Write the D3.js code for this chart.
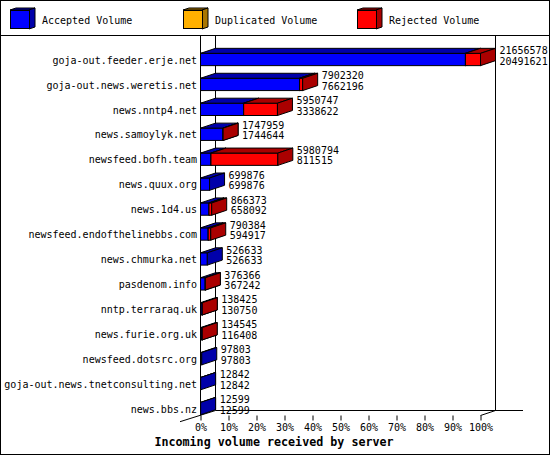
<!DOCTYPE html>
<html>
<head>
<meta charset="utf-8">
<script src="https://cdn.jsdelivr.net/npm/d3@7"></script>
<style>
  body { margin: 0; background: #fff; }
  svg { display: block; }
  text { font-family: "DejaVu Sans Mono", monospace; font-size: 10px; fill: #000; }
</style>
</head>
<body>
<svg id="chart" width="550" height="455"></svg>
<script>
const hosts = [
    "goja-out.feeder.erje.net",
    "goja-out.news.weretis.net",
    "news.nntp4.net",
    "news.samoylyk.net",
    "newsfeed.bofh.team",
    "news.quux.org",
    "news.1d4.us",
    "newsfeed.endofthelinebbs.com",
    "news.chmurka.net",
    "pasdenom.info",
    "nntp.terraraq.uk",
    "news.furie.org.uk",
    "newsfeed.dotsrc.org",
    "goja-out.news.tnetconsulting.net",
    "news.bbs.nz"
];
const totalVolume = [21656578, 7902320, 5950747, 1747959, 5980794, 699876, 866373, 790384,
    526633, 376366, 138425, 134545, 97803, 12842, 12599];
const acceptedVolume = [20491621, 7662196, 3338622, 1744644, 811515, 699876, 658092, 594917,
    526633, 367242, 130750, 116408, 97803, 12842, 12599];
const duplicatedVolume = [0, 0, 0, 0, 0, 0, 0, 0, 0, 0, 0, 0, 0, 0, 0];
const seriesNames = ["Accepted Volume", "Duplicated Volume", "Rejected Volume"];
const seriesColors = ["#0000ff", "#ffb000", "#ff0000"];
const seriesShade = ["#0000aa", "#aa7600", "#aa0000"];
const percentTicks = [0, 10, 20, 30, 40, 50, 60, 70, 80, 90, 100];
const xTitle = "Incoming volume received by server";

const svg = d3.select("#chart");
const W = 550, H = 455;
const dx = 15, dy = -5;   // 3d depth

// frame
svg.append("rect").attr("x", 0.5).attr("y", 0.5).attr("width", W - 1).attr("height", H - 1)
    .attr("fill", "#fff").attr("stroke", "#000").attr("shape-rendering", "crispEdges");
svg.append("line").attr("x1", 0).attr("x2", W).attr("y1", 35.5).attr("y2", 35.5)
    .attr("stroke", "#000").attr("shape-rendering", "crispEdges");

// legend
const legendX = [10, 183, 357];
seriesNames.forEach((name, i) => {
    const g = svg.append("g").attr("transform", `translate(${legendX[i]},10)`);
    g.append("polygon").attr("points", "0,0 6,-2 25,-2 19,0")
        .attr("fill", seriesShade[i]).attr("stroke", "#000");
    g.append("polygon").attr("points", "19,0 25,-2 25,17 19,19")
        .attr("fill", seriesShade[i]).attr("stroke", "#000");
    g.append("rect").attr("x", 0.5).attr("y", 0.5).attr("width", 19).attr("height", 18)
        .attr("fill", seriesColors[i]).attr("stroke", "#000");
    g.append("text").attr("x", 32).attr("y", 13.5).text(name);
});

// scales
const x = d3.scaleLinear().domain([0, d3.max(totalVolume)]).range([200.5, 480.5]);
const xp = d3.scaleLinear().domain([0, 100]).range([200.5, 480.5]);
const y = d3.scaleBand().domain(hosts).range([41, 415]);

// walls and floor
const walls = svg.append("g").attr("stroke", "#000").attr("fill", "none");
walls.append("line").attr("x1", 215.5).attr("x2", 215.5).attr("y1", 36).attr("y2", 410.5);
walls.append("line").attr("x1", 495.5).attr("x2", 495.5).attr("y1", 36).attr("y2", 410.5);
walls.append("line").attr("x1", 215.5).attr("x2", 523).attr("y1", 410.5).attr("y2", 410.5);
walls.append("line").attr("x1", 180).attr("y1", 421.7).attr("x2", 215.5).attr("y2", 410.5);
walls.append("line").attr("x1", xp(100)).attr("y1", 415.5).attr("x2", xp(100) + dx).attr("y2", 410.5);
walls.append("line").attr("x1", 200.5).attr("x2", 200.5).attr("y1", 36).attr("y2", 415.5);

// bottom axis (percent of the largest server)
const axis = svg.append("g").attr("transform", "translate(0,415.5)")
    .call(d3.axisBottom(xp).tickValues(percentTicks).tickFormat(d => d + "%").tickSize(5).tickPadding(3));
axis.select(".domain").remove();
axis.selectAll("text").attr("font-family", "DejaVu Sans Mono").attr("font-size", 10).attr("fill", "#000");

svg.append("text").attr("x", 274).attr("y", 446).attr("text-anchor", "middle")
    .style("font-weight", "bold").style("font-size", "11.7px").text(xTitle);

// bars
const rows = hosts.map((h, i) => {
    const acc = acceptedVolume[i], dup = duplicatedVolume[i];
    const rej = totalVolume[i] - acc - dup;
    return { host: h, total: totalVolume[i], accepted: acc, values: [acc, dup, rej] };
});

const bars = svg.append("g").attr("stroke", "#000").attr("stroke-width", 1);
rows.forEach(r => {
    const bottom = y(r.host) + y.bandwidth() - 0.3;
    const top = bottom - 12.3;
    let start = 0;
    r.values.forEach((v, s) => {
        if (v <= 0) return;
        const x0 = x(start), x1 = x(start + v);
        start += v;
        bars.append("rect").attr("x", x0).attr("y", top).attr("width", x1 - x0).attr("height", bottom - top)
            .attr("fill", seriesColors[s]);
        bars.append("polygon")
            .attr("points", [[x0, top], [x0 + dx, top + dy], [x1 + dx, top + dy], [x1, top]].join(" "))
            .attr("fill", seriesShade[s]);
        bars.append("polygon")
            .attr("points", [[x1, top], [x1 + dx, top + dy], [x1 + dx, bottom + dy], [x1, bottom]].join(" "))
            .attr("fill", seriesShade[s]);
    });
    const tx = x(r.total) + 19;
    svg.append("text").attr("x", tx).attr("y", bottom - 11.5).text(r.total);
    svg.append("text").attr("x", tx).attr("y", bottom - 1).text(r.accepted);
});

// category labels
svg.append("g").selectAll("text").data(hosts).join("text")
    .attr("x", 197).attr("y", d => y(d) + y.bandwidth() - 2.3)
    .attr("text-anchor", "end").text(d => d);
</script>
</body>
</html>
